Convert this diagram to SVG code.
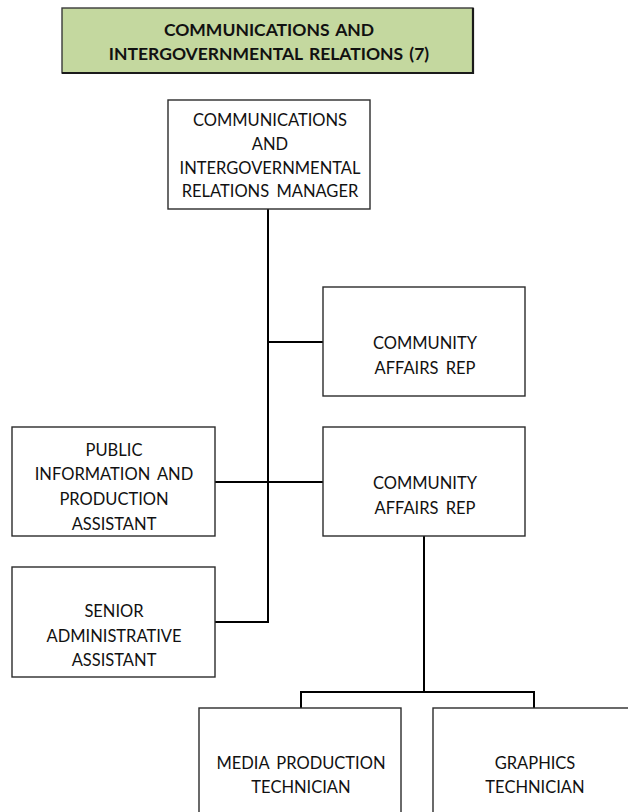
<svg xmlns="http://www.w3.org/2000/svg" width="628" height="812" viewBox="0 0 628 812">
  <style>
    .box { fill: #ffffff; stroke: #2b2b2b; stroke-width: 1.4; }
    .title { fill: #c4d89f; stroke: #3a3a3a; stroke-width: 1.4; }
    .shadow { fill: none; stroke: #1a1a1a; stroke-width: 2.2; }
    .lbl { font-family: Lato, "Liberation Sans", sans-serif; font-size: 16.5px; word-spacing: 3px; fill: #111; text-anchor: middle; }
    .hdr { font-family: Lato, "Liberation Sans", sans-serif; font-size: 17.5px; word-spacing: 2px; font-weight: bold; fill: #111; text-anchor: middle; }
    .wire { fill: none; stroke: #000; stroke-width: 2; }
  </style>
  <rect width="628" height="812" fill="#ffffff"/>

  <!-- department title -->
  <g id="title">
    <rect class="title" x="62" y="8" width="411" height="65"/>
    <polyline class="shadow" points="473,8 473,73 62,73"/>
    <text class="hdr" x="269" y="36">COMMUNICATIONS AND</text>
    <text class="hdr" x="269" y="60">INTERGOVERNMENTAL RELATIONS (7)</text>
  </g>

  <!-- reporting lines -->
  <g id="connectors">
    <polyline class="wire" points="268,209 268,622 215,622"/>
    <line class="wire" x1="268" y1="342" x2="323" y2="342"/>
    <line class="wire" x1="215" y1="482" x2="323" y2="482"/>
    <line class="wire" x1="424" y1="536" x2="424" y2="692"/>
    <polyline class="wire" points="301,708 301,692 534,692 534,708"/>
  </g>

  <g id="manager">
    <rect class="box" x="168" y="100" width="202" height="109"/>
    <text class="lbl" x="270" y="126">COMMUNICATIONS</text>
    <text class="lbl" x="270" y="150">AND</text>
    <text class="lbl" x="270" y="174">INTERGOVERNMENTAL</text>
    <text class="lbl" x="270" y="197">RELATIONS MANAGER</text>
  </g>

  <g id="community-rep-1">
    <rect class="box" x="323" y="287" width="202" height="109"/>
    <text class="lbl" x="425" y="349">COMMUNITY</text>
    <text class="lbl" x="425" y="374">AFFAIRS REP</text>
  </g>

  <g id="community-rep-2">
    <rect class="box" x="323" y="427" width="202" height="109"/>
    <text class="lbl" x="425" y="489">COMMUNITY</text>
    <text class="lbl" x="425" y="514">AFFAIRS REP</text>
  </g>

  <g id="public-info-assistant">
    <rect class="box" x="12" y="427" width="203" height="109"/>
    <text class="lbl" x="114" y="456">PUBLIC</text>
    <text class="lbl" x="114" y="480">INFORMATION AND</text>
    <text class="lbl" x="114" y="505">PRODUCTION</text>
    <text class="lbl" x="114" y="530">ASSISTANT</text>
  </g>

  <g id="senior-admin-assistant">
    <rect class="box" x="12" y="567" width="203" height="110"/>
    <text class="lbl" x="114" y="617">SENIOR</text>
    <text class="lbl" x="114" y="642">ADMINISTRATIVE</text>
    <text class="lbl" x="114" y="666">ASSISTANT</text>
  </g>

  <g id="media-technician">
    <rect class="box" x="199" y="708" width="202" height="120"/>
    <text class="lbl" x="301" y="769">MEDIA PRODUCTION</text>
    <text class="lbl" x="301" y="793">TECHNICIAN</text>
  </g>

  <g id="graphics-technician">
    <rect class="box" x="433" y="708" width="202" height="120"/>
    <text class="lbl" x="535" y="769">GRAPHICS</text>
    <text class="lbl" x="535" y="793">TECHNICIAN</text>
  </g>
</svg>
